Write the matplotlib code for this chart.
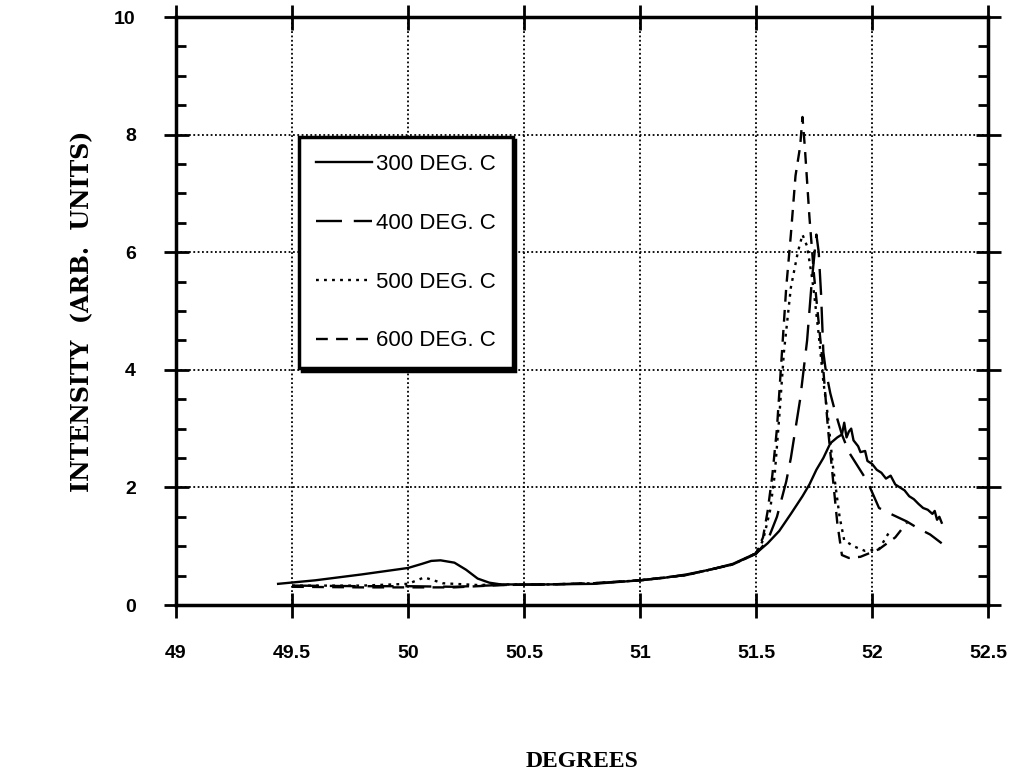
import matplotlib

matplotlib.use("Agg")
import matplotlib.pyplot as plt
from matplotlib.ticker import MultipleLocator, FormatStrFormatter

# 300 DEG. C (solid)
x300 = [49.44, 49.6, 49.8, 50.0, 50.06, 50.1, 50.14, 50.2, 50.25, 50.3, 50.35, 50.4,
        50.6, 50.8, 51.0, 51.1, 51.2, 51.3, 51.4, 51.5, 51.55, 51.6, 51.65, 51.7,
        51.73, 51.76, 51.79, 51.82, 51.85, 51.87, 51.88, 51.89, 51.9, 51.91, 51.92,
        51.94, 51.95, 51.97, 51.98, 52.0, 52.02, 52.04, 52.06, 52.08, 52.1, 52.12,
        52.14, 52.16, 52.18, 52.2, 52.22, 52.24, 52.26, 52.27, 52.28, 52.29, 52.3]
y300 = [0.36, 0.42, 0.52, 0.63, 0.70, 0.75, 0.76, 0.72, 0.60, 0.45, 0.38, 0.35,
        0.35, 0.36, 0.42, 0.46, 0.52, 0.60, 0.70, 0.88, 1.05, 1.26, 1.55, 1.85,
        2.05, 2.30, 2.50, 2.75, 2.85, 2.90, 3.10, 2.85, 2.95, 3.00, 2.80,
        2.70, 2.60, 2.62, 2.45, 2.40, 2.30, 2.25, 2.15, 2.20, 2.05, 2.00,
        1.95, 1.85, 1.80, 1.72, 1.65, 1.62, 1.55, 1.60, 1.45, 1.50, 1.40]

# 400 DEG. C (long dash)
x400 = [49.5, 49.8, 50.0, 50.2, 50.4, 50.6, 50.8, 51.0, 51.2, 51.4, 51.5, 51.55,
        51.59, 51.63, 51.65, 51.69, 51.72, 51.74, 51.76, 51.77, 51.78, 51.79, 51.8,
        51.82, 51.84, 51.87, 51.9, 51.94, 51.98, 52.03, 52.08, 52.15, 52.2, 52.25, 52.3]
y400 = [0.33, 0.32, 0.32, 0.31, 0.34, 0.35, 0.37, 0.42, 0.51, 0.69, 0.87, 1.10,
        1.50, 2.10, 2.50, 3.50, 4.50, 5.50, 6.30, 6.00, 5.30, 4.30, 4.00,
        3.60, 3.30, 2.90, 2.60, 2.35, 2.10, 1.65, 1.55, 1.42, 1.30, 1.20, 1.05]

# 500 DEG. C (dotted)
x500 = [49.5, 49.8, 50.0, 50.07, 50.15, 50.3, 50.4, 50.6, 50.8, 51.0, 51.2, 51.4,
        51.5, 51.53, 51.56, 51.58, 51.6, 51.62, 51.65, 51.68, 51.7, 51.72, 51.74,
        51.75, 51.77, 51.79, 51.81, 51.83, 51.86, 51.88, 51.92, 51.97, 52.03, 52.08]
y500 = [0.33, 0.33, 0.36, 0.47, 0.37, 0.34, 0.35, 0.35, 0.37, 0.42, 0.51, 0.69,
        0.88, 1.10, 1.60, 2.20, 3.20, 4.30, 5.40, 6.00, 6.30, 6.10, 5.60,
        5.30, 4.60, 3.80, 3.20, 2.40, 1.50, 1.10, 1.00, 0.92, 0.95, 1.28]

# 600 DEG. C (dashed)
x600 = [49.5, 49.8, 50.0, 50.2, 50.4, 50.6, 50.8, 51.0, 51.2, 51.4, 51.5, 51.53,
        51.55, 51.57, 51.59, 51.61, 51.63, 51.65, 51.67, 51.69, 51.70, 51.71, 51.72,
        51.73, 51.75, 51.77, 51.79, 51.81, 51.83, 51.85, 51.87, 51.9, 51.95, 52.0,
        52.03, 52.1, 52.15]
y600 = [0.31, 0.30, 0.30, 0.30, 0.34, 0.35, 0.37, 0.42, 0.51, 0.69, 0.88, 1.15,
        1.60, 2.20, 3.00, 4.20, 5.40, 6.30, 7.30, 7.80, 8.30, 7.80, 7.20,
        6.60, 5.60, 4.80, 4.00, 3.00, 2.20, 1.40, 0.85, 0.80, 0.82, 0.90,
        0.95, 1.15, 1.40]

labels = ["300 DEG. C", "400 DEG. C", "500 DEG. C", "600 DEG. C"]
xticks = [49, 49.5, 50, 50.5, 51, 51.5, 52, 52.5]
yticks = [0, 2, 4, 6, 8, 10]

fig = plt.figure(figsize=(10.27, 7.84), dpi=100)
ax = fig.add_axes([0.1714, 0.2283, 0.7907, 0.750])

ax.plot(x300, y300, color="black", lw=1.7, linestyle="-", label=labels[0])
ax.plot(x400, y400, color="black", lw=1.7, dashes=(11, 5), label=labels[1])
ax.plot(x500, y500, color="black", lw=1.7, dashes=(1.2, 2.2), label=labels[2])
ax.plot(x600, y600, color="black", lw=1.7, dashes=(5, 3.5), label=labels[3])

ax.set_xlim(49, 52.5)
ax.set_ylim(0, 10)
ax.set_xticks(xticks)
ax.set_yticks(yticks)
ax.xaxis.set_major_formatter(FormatStrFormatter("%g"))
ax.yaxis.set_minor_locator(MultipleLocator(0.5))

ax.grid(True, which="major", color="black", linestyle=(0, (1, 1.4)), linewidth=1.3)
for s in ax.spines.values():
    s.set_linewidth(2.5)

ax.tick_params(which="major", direction="inout", length=18, width=2,
               top=True, right=True, labelsize=14)
ax.tick_params(which="minor", axis="y", direction="in", length=7, width=2,
               left=True, right=True)
for lab in ax.get_xticklabels() + ax.get_yticklabels():
    lab.set_fontfamily("Liberation Sans")
    lab.set_fontweight("bold")
ax.tick_params(axis="x", pad=20)
ax.tick_params(axis="y", pad=20)

ax.set_xlabel("DEGREES", family="Liberation Serif", fontweight="bold",
              fontsize=17, labelpad=64)
ax.set_ylabel("INTENSITY  (ARB.  UNITS)", family="DejaVu Serif",
              fontweight="bold", fontsize=17, labelpad=14)

leg = ax.legend(loc="lower left", bbox_to_anchor=(0.152, 0.403), borderaxespad=0,
                fancybox=False, shadow={"color": "black", "alpha": 1},
                framealpha=1, edgecolor="black", handlelength=2.5,
                handletextpad=0.2, labelspacing=1.7, borderpad=0.75,
                prop={"family": "Liberation Sans", "size": 16})
leg.get_frame().set_linewidth(2.5)

fig.savefig("out.png", dpi=100)
